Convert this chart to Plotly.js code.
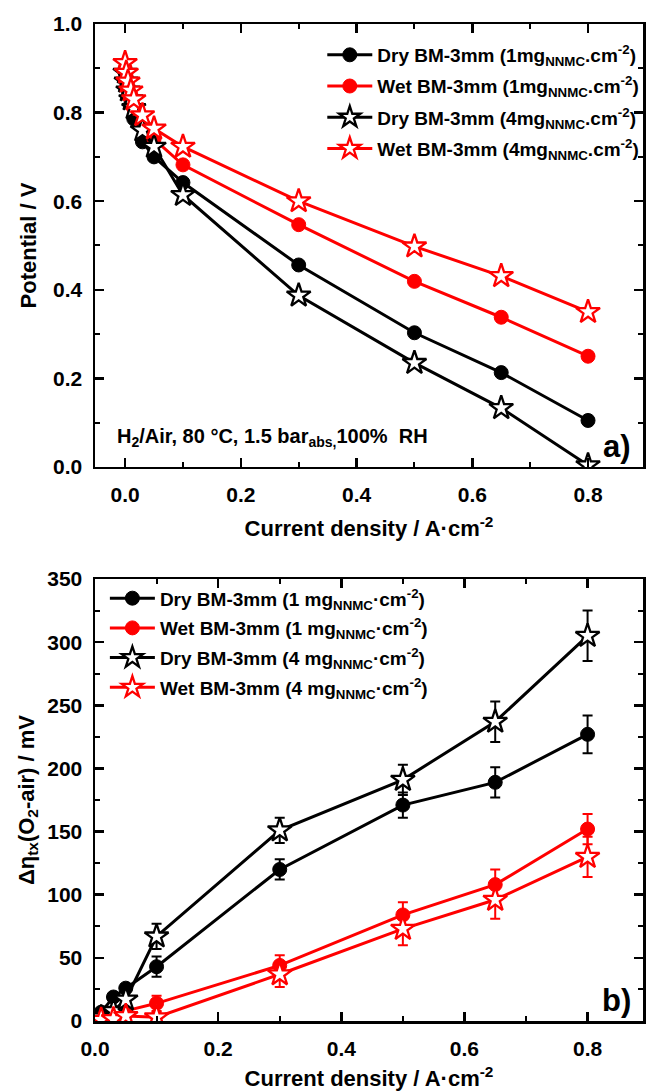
<!DOCTYPE html>
<html>
<head>
<meta charset="utf-8">
<script src="https://cdn.plot.ly/plotly-3.0.1.min.js"></script>
<style>html,body{margin:0;padding:0;background:#fff;}#chart{width:647px;height:1091px;}</style>
</head>
<body>
<div id="chart"></div>
<script>
// ---------- Panel a) polarization curves ----------
const currentA = [0, 0.002, 0.005, 0.01, 0.015, 0.03, 0.05, 0.1, 0.3, 0.5, 0.65, 0.8];
const dry1mgV = [0.89, 0.87, 0.85, 0.82, 0.786, 0.734, 0.70, 0.642, 0.456, 0.303, 0.213, 0.105];
const wet1mgV = [0.90, 0.88, 0.86, 0.84, 0.81, 0.77, 0.74, 0.682, 0.547, 0.419, 0.338, 0.25];
const dry4mgV = [0.89, 0.87, 0.85, 0.83, 0.81, 0.76, 0.723, 0.614, 0.387, 0.235, 0.133, 0.004];
const wet4mgV = [0.912, 0.89, 0.87, 0.85, 0.83, 0.794, 0.764, 0.723, 0.60, 0.498, 0.431, 0.35];

// ---------- Panel b) O2-air overpotential difference ----------
const currentB = [0.01, 0.03, 0.05, 0.1, 0.3, 0.5, 0.65, 0.8];
const dry1mgEta = [7, 19, 26, 43, 120, 171, 189, 227];
const dry1mgErr = [2, 3, 3, 8, 8, 10, 12, 15];
const wet1mgEta = [2, 4, 8, 14, 44, 84, 108, 152];
const wet1mgErr = [1, 2, 3, 6, 8, 10, 12, 12];
const dry4mgEta = [3, 8, 17, 67, 151, 191, 237, 305];
const dry4mgErr = [1, 2, 3, 10, 10, 12, 16, 20];
const wet4mgEta = [1, 1.5, 4, 3, 37, 73, 96, 130];
const wet4mgErr = [1, 1, 2, 4, 10, 13, 15, 16];

const namesA = [
  'Dry BM-3mm (1mg<sub>NNMC</sub>.cm<sup>-2</sup>)',
  'Wet BM-3mm (1mg<sub>NNMC</sub>.cm<sup>-2</sup>)',
  'Dry BM-3mm (4mg<sub>NNMC</sub>.cm<sup>-2</sup>)',
  'Wet BM-3mm (4mg<sub>NNMC</sub>.cm<sup>-2</sup>)'
];
const namesB = [
  'Dry BM-3mm (1 mg<sub>NNMC</sub>·cm<sup>-2</sup>)',
  'Wet BM-3mm (1 mg<sub>NNMC</sub>·cm<sup>-2</sup>)',
  'Dry BM-3mm (4 mg<sub>NNMC</sub>·cm<sup>-2</sup>)',
  'Wet BM-3mm (4 mg<sub>NNMC</sub>·cm<sup>-2</sup>)'
];

const BLACK = '#000000', RED = '#ff0000';
const FONT = 'Liberation Sans, Arial, Helvetica, sans-serif';

function circ(color){ return {symbol:'circle', size:14, color:color, line:{color:color, width:1}}; }
function star(color){ return {symbol:'star', size:18, color:'#ffffff', line:{color:color, width:2.3}}; }

const traces = [];
const seriesA = [[dry1mgV, BLACK, 'c'], [wet1mgV, RED, 'c'], [dry4mgV, BLACK, 's'], [wet4mgV, RED, 's']];
seriesA.forEach((s, i) => {
  traces.push({
    x: currentA, y: s[0], name: namesA[i], type: 'scatter', mode: 'lines+markers',
    xaxis: 'x', yaxis: 'y', legend: 'legend', legendgroup: 'a' + i,
    line: {color: s[1], width: 3},
    marker: s[2] === 'c' ? circ(s[1]) : star(s[1])
  });
});
const seriesB = [[dry1mgEta, dry1mgErr, BLACK, 'c'], [wet1mgEta, wet1mgErr, RED, 'c'],
                 [dry4mgEta, dry4mgErr, BLACK, 's'], [wet4mgEta, wet4mgErr, RED, 's']];
seriesB.forEach((s, i) => {
  traces.push({
    x: currentB, y: s[0], name: namesB[i], type: 'scatter', mode: 'lines+markers',
    xaxis: 'x2', yaxis: 'y2', legend: 'legend2', legendgroup: 'b' + i,
    error_y: {type: 'data', array: s[1], visible: true, color: s[2], thickness: 2, width: 5},
    line: {color: s[2], width: 3},
    marker: s[3] === 'c' ? circ(s[2]) : star(s[2])
  });
});

const TITLEFONT = {family: FONT, size: 22, color: '#000', weight: 'bold'};
const axCommon = {
  showline: true, linecolor: '#000', linewidth: 2.5, mirror: 'ticks',
  ticks: 'inside', ticklen: 9, tickwidth: 2.5, tickcolor: '#000',
  showgrid: false, zeroline: false,
  tickfont: {family: FONT, size: 21, color: '#000', weight: 'bold'}
};
function ax(extra){ return Object.assign(JSON.parse(JSON.stringify(axCommon)), extra); }
const MINOR = (d) => ({dtick: d, tick0: 0, ticks: 'inside', ticklen: 5, tickwidth: 2, tickcolor: '#000'});

const layout = {
  width: 647, height: 1091,
  margin: {l: 95, r: 3, t: 24, b: 70},
  paper_bgcolor: '#fff', plot_bgcolor: '#fff',
  font: {family: FONT, size: 18, color: '#000', weight: 'bold'},
  showlegend: true,
  xaxis: ax({anchor: 'y', domain: [0, 1], range: [-0.052, 0.895], tickvals: [0, 0.2, 0.4, 0.6, 0.8],
    tickformat: '.1f', ticklabelstandoff: 7, minor: MINOR(0.1),
    title: {text: 'Current density / A·cm<sup>-2</sup>', standoff: 16, font: TITLEFONT}}),
  yaxis: ax({anchor: 'x', domain: [0.5557, 1], range: [0, 1.0], dtick: 0.2, tick0: 0, tickformat: '.1f',
    ticklabelstandoff: 6, minor: MINOR(0.1),
    title: {text: 'Potential / V', standoff: 11, font: TITLEFONT}}),
  xaxis2: ax({anchor: 'y2', domain: [0, 1], range: [0, 0.89], tickvals: [0, 0.2, 0.4, 0.6, 0.8],
    tickformat: '.1f', ticklabelstandoff: 7, minor: MINOR(0.1),
    title: {text: 'Current density / A·cm<sup>-2</sup>', standoff: 13, font: TITLEFONT}}),
  yaxis2: ax({anchor: 'x2', domain: [0, 0.4433], range: [0, 350], dtick: 50, tick0: 0,
    ticklabelstandoff: 6, minor: MINOR(25),
    title: {text: 'Δη<sub>tx</sub>(O<sub>2</sub>-air) / mV', standoff: 7, font: TITLEFONT}}),
  legend: {x: 0.414, y: 0.988, xanchor: 'left', yanchor: 'top', bgcolor: 'rgba(0,0,0,0)',
    font: {family: FONT, size: 19, color: '#000', weight: 'bold'}, itemwidth: 45, tracegroupgap: 3.5},
  legend2: {x: 0.018, y: 0.443, xanchor: 'left', yanchor: 'top', bgcolor: 'rgba(0,0,0,0)',
    font: {family: FONT, size: 19, color: '#000', weight: 'bold'}, itemwidth: 45, tracegroupgap: 2},
  annotations: [
    {text: 'H<sub>2</sub>/Air, 80 °C, 1.5 bar<sub>abs,</sub>100%  RH', xref: 'paper', yref: 'paper',
     x: 0.036, y: 0.585, xanchor: 'left', yanchor: 'middle', showarrow: false,
     font: {family: FONT, size: 20, color: '#000', weight: 'bold'}},
    {text: 'a)', xref: 'paper', yref: 'paper', x: 0.982, y: 0.576, xanchor: 'right', yanchor: 'middle',
     showarrow: false, font: {family: FONT, size: 31, color: '#000', weight: 'bold'}},
    {text: 'b)', xref: 'paper', yref: 'paper', x: 0.982, y: 0.021, xanchor: 'right', yanchor: 'middle',
     showarrow: false, font: {family: FONT, size: 31, color: '#000', weight: 'bold'}}
  ]
};

Plotly.newPlot('chart', traces, layout, {staticPlot: true, displayModeBar: false});
</script>
</body>
</html>
